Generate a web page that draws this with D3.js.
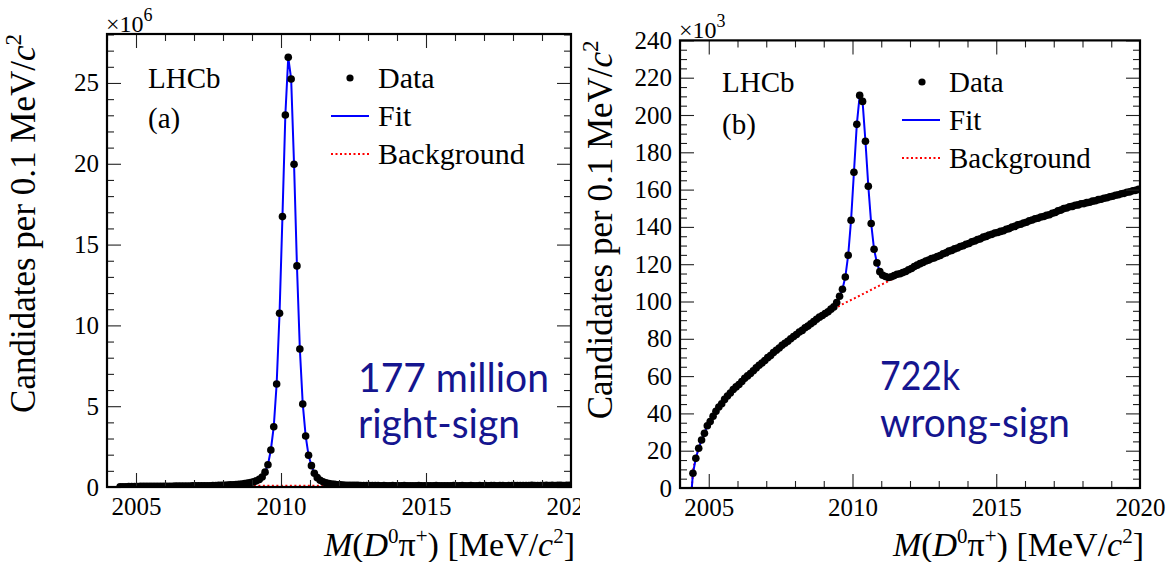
<!DOCTYPE html>
<html>
<head>
<meta charset="utf-8">
<script src="https://cdn.jsdelivr.net/npm/d3@7"></script>
<style>
  html, body { margin: 0; padding: 0; background: #fff; }
  svg { display: block; }
</style>
</head>
<body>
<svg id="chart" width="1167" height="562"></svg>
<script>
// ---- Binning: 0.1 MeV/c^2 bins, first bin centred at 2004.45 ----
const binStart = 2004.45;
const binStep = 0.1;
const massRange = [2004, 2020];
const threshold = 2004.41;           // D0 pi+ kinematic threshold

// Right-sign candidates per bin (units of 10^6)
const rightSign = [
  0.01, 0.02, 0.02, 0.03, 0.03, 0.03,
  0.03, 0.04, 0.04, 0.04, 0.04, 0.04, 0.05, 0.05, 0.05, 0.05,
  0.05, 0.05, 0.05, 0.06, 0.06, 0.06, 0.06, 0.06, 0.06, 0.07,
  0.07, 0.07, 0.07, 0.08, 0.08, 0.08, 0.09, 0.09, 0.10, 0.10,
  0.11, 0.12, 0.13, 0.14, 0.15, 0.17, 0.19, 0.21, 0.24, 0.28,
  0.32, 0.38, 0.47, 0.62, 0.92, 1.38, 2.29, 3.73, 6.37, 10.75,
  16.73, 23.02, 26.59, 25.25, 19.97, 13.68, 8.54, 5.14, 3.16, 1.96,
  1.32, 0.85, 0.58, 0.42, 0.32, 0.26, 0.21, 0.18, 0.16, 0.14,
  0.13, 0.12, 0.11, 0.11, 0.10, 0.10, 0.10, 0.09, 0.09, 0.09,
  0.09, 0.09, 0.09, 0.09, 0.08, 0.09, 0.08, 0.08, 0.09, 0.08,
  0.08, 0.08, 0.09, 0.08, 0.08, 0.08, 0.08, 0.09, 0.08, 0.08,
  0.08, 0.08, 0.08, 0.09, 0.08, 0.08, 0.08, 0.08, 0.08, 0.09,
  0.08, 0.08, 0.09, 0.08, 0.08, 0.09, 0.08, 0.08, 0.09, 0.08,
  0.09, 0.08, 0.09, 0.09, 0.08, 0.09, 0.09, 0.08, 0.09, 0.09,
  0.09, 0.09, 0.09, 0.09, 0.09, 0.09, 0.10, 0.09, 0.09, 0.09,
  0.09, 0.10, 0.09, 0.10, 0.09, 0.10, 0.10, 0.09, 0.10, 0.10
];

// Wrong-sign candidates per bin (units of 10^3)
const wrongSign = [
  7.9, 15.9, 21.3, 25.7, 29.3, 33.4,
  35.6, 38.5, 41.1, 43.4, 45.2, 47.5, 49.3, 50.9, 52.8, 54.2,
  55.5, 57.1, 58.8, 60.1, 61.4, 62.9, 64.4, 65.8, 67.0, 68.4,
  69.9, 71.0, 72.6, 73.9, 75.1, 76.5, 77.6, 78.7, 80.0, 81.2,
  82.3, 83.6, 84.5, 85.9, 86.8, 88.1, 89.2, 90.5, 91.6, 92.5,
  93.6, 94.5, 95.9, 97.1, 99.4, 102.8, 106.6, 113.1, 124.8, 143.6,
  169.3, 195.0, 210.5, 207.3, 185.9, 161.8, 141.8, 128.0, 120.7, 116.0,
  114.1, 113.4, 112.9, 113.3, 113.9, 114.6, 114.9, 115.5, 116.1, 117.0,
  117.7, 118.7, 119.5, 120.3, 120.9, 121.7, 122.2, 123.0, 123.4, 124.1,
  124.7, 125.6, 126.1, 127.0, 127.4, 128.2, 128.7, 129.5, 129.9, 130.7,
  131.1, 132.0, 132.4, 133.2, 133.6, 134.5, 134.9, 135.6, 136.0, 136.7,
  137.0, 137.6, 137.9, 138.7, 139.1, 139.9, 140.3, 141.1, 141.4, 142.1,
  142.5, 143.3, 143.7, 144.4, 144.6, 145.3, 145.6, 146.2, 146.5, 147.3,
  147.7, 148.6, 149.0, 149.8, 150.1, 150.8, 151.0, 151.6, 151.8, 152.4,
  152.5, 153.0, 153.2, 153.8, 154.0, 154.6, 154.8, 155.4, 155.6, 156.2,
  156.4, 157.0, 157.2, 157.8, 158.0, 158.6, 158.8, 159.4, 159.6, 160.1
];

// Background components of the fits
const bkgRightSignMass = [2004.41, 2004.6, 2005, 2006, 2007, 2008, 2009, 2010, 2011, 2012, 2013, 2014, 2016, 2018, 2020];
const bkgRightSign     = [0, 0.02, 0.03, 0.05, 0.06, 0.07, 0.07, 0.08, 0.08, 0.08, 0.08, 0.08, 0.08, 0.09, 0.10];

const bkgWrongSignMass = [2004.41, 2004.45, 2004.55, 2004.65, 2004.75, 2004.85, 2004.95, 2005.1, 2005.3, 2005.5,
                          2005.75, 2006, 2006.5, 2007, 2007.5, 2008, 2008.5, 2009, 2009.5, 2010, 2010.5, 2011,
                          2011.5, 2012, 2013, 2014, 2015, 2016, 2017, 2018, 2019, 2020];
const bkgWrongSign     = [0, 7.9, 15.9, 21.3, 25.7, 29.3, 33.3, 37.0, 41.6, 46.2,
                          50.9, 55.0, 62.3, 69.3, 75.8, 81.6, 87.0, 92.1, 97.3, 101.2, 105.1, 109.0,
                          112.9, 116.6, 124.0, 130.8, 136.8, 142.2, 147.4, 152.2, 156.2, 160.2];

// Axis ticks
const xMajorTicks = [2005, 2010, 2015, 2020];
const xMinorTicks = [2004, 2006, 2007, 2008, 2009, 2011, 2012, 2013, 2014, 2016, 2017, 2018, 2019];
const yMajorTicksA = [0, 5, 10, 15, 20, 25];
const yMajorTicksB = [0, 20, 40, 60, 80, 100, 120, 140, 160, 180, 200, 220, 240];

// Text
const legendLabels = ["Data", "Fit", "Background"];
const yieldRightSign = ["177 million", "right-sign"];
const yieldWrongSign = ["722k", "wrong-sign"];

// ---- Drawing ----
const svg = d3.select("#chart");
const serif = "'Liberation Serif', 'Times New Roman', Times, serif";
const sans = "Lato, 'Open Sans', 'Noto Sans', sans-serif";
const annotColor = "#15158f";

const panels = [
  {
    key: "a", left: 107, right: 571, top: 34, bottom: 487,
    yMax: 28.03, yMajor: yMajorTicksA, yMinorStep: 1, exponent: "6",
    values: rightSign, bkgMass: bkgRightSignMass, bkg: bkgRightSign,
    tag: "(a)", yieldLines: yieldRightSign,
    lhcb: [148, 88], tagPos: [148, 128],
    legend: { dotX: 350, lineX0: 331, lineX1: 369, textX: 378, y0: 78, gap: 38, font: 30 },
    yieldX: 358, yieldY: [392, 438], yieldWidth: [191, 162],
    clipX0: 0, clipX1: 580, yTitleX: 35
  },
  {
    key: "b", left: 680, right: 1140, top: 40.4, bottom: 488,
    yMax: 240, yMajor: yMajorTicksB, yMinorStep: 5, exponent: "3",
    values: wrongSign, bkgMass: bkgWrongSignMass, bkg: bkgWrongSign,
    tag: "(b)", yieldLines: yieldWrongSign,
    lhcb: [722, 92], tagPos: [722, 134],
    legend: { dotX: 922, lineX0: 902, lineX1: 940, textX: 949, y0: 82, gap: 38, font: 29 },
    yieldX: 880, yieldY: [390, 437], yieldWidth: [80, 190],
    clipX0: 578, clipX1: 1167, yTitleX: 612
  }
];

const defs = svg.append("defs");

panels.forEach(p => {
  const x = d3.scaleLinear().domain(massRange).range([p.left, p.right]);
  const y = d3.scaleLinear().domain([0, p.yMax]).range([p.bottom, p.top]);

  // whole-panel clip (the left panel is cut at its right side)
  defs.append("clipPath").attr("id", "panel-" + p.key)
    .append("rect").attr("x", p.clipX0).attr("y", 0)
    .attr("width", p.clipX1 - p.clipX0).attr("height", 562);
  // plot-area clip
  defs.append("clipPath").attr("id", "frame-" + p.key)
    .append("rect").attr("x", p.left).attr("y", p.top)
    .attr("width", p.right - p.left).attr("height", p.bottom - p.top);

  const g = svg.append("g").attr("clip-path", `url(#panel-${p.key})`);
  const plot = g.append("g").attr("clip-path", `url(#frame-${p.key})`);

  const bins = p.values.map((v, i) => ({ m: binStart + i * binStep, v }));

  // background (red dotted)
  const bkgPts = p.bkgMass.map((m, i) => [m, p.bkg[i]]);
  plot.append("path")
    .datum(bkgPts)
    .attr("fill", "none")
    .attr("stroke", "#ff0000")
    .attr("stroke-width", 2)
    .attr("stroke-dasharray", "2,2.5")
    .attr("d", d3.line().x(d => x(d[0])).y(d => y(d[1])).curve(d3.curveMonotoneX));

  // total fit (blue), zero below threshold then following the bins
  const fitPts = [[massRange[0], 0], [threshold, 0]].concat(bins.map(b => [b.m, b.v]));
  plot.append("path")
    .datum(fitPts)
    .attr("fill", "none")
    .attr("stroke", "#0000ff")
    .attr("stroke-width", 2)
    .attr("d", d3.line().x(d => x(d[0])).y(d => y(d[1])));

  // data points
  plot.append("g").selectAll("circle")
    .data(bins)
    .join("circle")
    .attr("cx", d => x(d.m))
    .attr("cy", d => y(d.v))
    .attr("r", 3.8)
    .attr("fill", "#000");

  // ---- axes: ticks point inwards on all four sides ----
  const yMinor = d3.range(0, p.yMax, p.yMinorStep).filter(v => !p.yMajor.includes(v));
  const styleAxis = sel => {
    sel.select(".domain").remove();
    sel.selectAll(".tick line").attr("stroke", "#222").attr("stroke-width", 1.1);
    sel.selectAll("text").attr("font-family", serif).attr("font-size", 25).attr("fill", "#000");
  };

  g.append("g").attr("transform", `translate(0,${p.bottom})`)
    .call(d3.axisBottom(x).tickValues(xMajorTicks.filter(t => t < massRange[1])).tickSize(-14).tickPadding(10).tickFormat(d3.format("d")))
    .call(styleAxis);
  g.append("g").attr("transform", `translate(0,${p.bottom})`)
    .call(d3.axisBottom(x).tickValues([massRange[1]]).tickSize(0).tickPadding(10).tickFormat(d3.format("d")))
    .call(styleAxis);
  g.append("g").attr("transform", `translate(0,${p.bottom})`)
    .call(d3.axisBottom(x).tickValues(xMinorTicks).tickSize(-7).tickFormat(""))
    .call(styleAxis);
  g.append("g").attr("transform", `translate(0,${p.top})`)
    .call(d3.axisTop(x).tickValues(xMajorTicks.filter(t => t < massRange[1])).tickSize(-14).tickFormat(""))
    .call(styleAxis);
  g.append("g").attr("transform", `translate(0,${p.top})`)
    .call(d3.axisTop(x).tickValues(xMinorTicks).tickSize(-7).tickFormat(""))
    .call(styleAxis);

  g.append("g").attr("transform", `translate(${p.left},0)`)
    .call(d3.axisLeft(y).tickValues(p.yMajor).tickSize(-14).tickPadding(8).tickFormat(d3.format("d")))
    .call(styleAxis);
  g.append("g").attr("transform", `translate(${p.left},0)`)
    .call(d3.axisLeft(y).tickValues(yMinor).tickSize(-7).tickFormat(""))
    .call(styleAxis);
  g.append("g").attr("transform", `translate(${p.right},0)`)
    .call(d3.axisRight(y).tickValues(p.yMajor).tickSize(-14).tickFormat(""))
    .call(styleAxis);
  g.append("g").attr("transform", `translate(${p.right},0)`)
    .call(d3.axisRight(y).tickValues(yMinor).tickSize(-7).tickFormat(""))
    .call(styleAxis);

  // frame
  g.append("rect")
    .attr("x", p.left).attr("y", p.top)
    .attr("width", p.right - p.left).attr("height", p.bottom - p.top)
    .attr("fill", "none").attr("stroke", "#000").attr("stroke-width", 2.2);

  // exponent multiplier
  const ex = g.append("text")
    .attr("x", p.left - 1).attr("y", p.top - 2)
    .attr("font-family", serif).attr("font-size", 24).attr("fill", "#000");
  ex.append("tspan").text("\u00d710");
  ex.append("tspan").attr("dy", -11).attr("font-size", 18).text(p.exponent);

  // y-axis title, aligned to the top of the frame
  const yt = g.append("text")
    .attr("transform", `translate(${p.yTitleX},${p.top}) rotate(-90)`)
    .attr("text-anchor", "end")
    .attr("font-family", serif).attr("font-size", 35).attr("fill", "#000");
  yt.append("tspan").text("Candidates per 0.1 MeV/");
  yt.append("tspan").attr("font-style", "italic").text("c");
  yt.append("tspan").attr("dy", -14).attr("font-size", 23).text("2");

  // x-axis title, aligned to the right end of the frame
  const xt = g.append("text")
    .attr("x", p.right + 4).attr("y", 556)
    .attr("text-anchor", "end")
    .attr("font-family", serif).attr("font-size", 34).attr("fill", "#000");
  xt.append("tspan").attr("font-style", "italic").text("M");
  xt.append("tspan").text("(");
  xt.append("tspan").attr("font-style", "italic").text("D");
  xt.append("tspan").attr("dy", -13).attr("font-size", 21).text("0");
  xt.append("tspan").attr("dy", 13).text("\u03c0");
  xt.append("tspan").attr("dy", -13).attr("font-size", 21).text("+");
  xt.append("tspan").attr("dy", 13).text(") [MeV/");
  xt.append("tspan").attr("font-style", "italic").text("c");
  xt.append("tspan").attr("dy", -13).attr("font-size", 21).text("2");
  xt.append("tspan").attr("dy", 13).text("]");

  // LHCb label and panel tag
  g.append("text").attr("x", p.lhcb[0]).attr("y", p.lhcb[1])
    .attr("font-family", serif).attr("font-size", 29).attr("fill", "#000").text("LHCb");
  g.append("text").attr("x", p.tagPos[0]).attr("y", p.tagPos[1])
    .attr("font-family", serif).attr("font-size", 29).attr("fill", "#000").text(p.tag);

  // legend
  const L = p.legend;
  g.append("circle").attr("cx", L.dotX).attr("cy", L.y0).attr("r", 3.6).attr("fill", "#000");
  g.append("line").attr("x1", L.lineX0).attr("x2", L.lineX1)
    .attr("y1", L.y0 + L.gap).attr("y2", L.y0 + L.gap)
    .attr("stroke", "#0000ff").attr("stroke-width", 2);
  g.append("line").attr("x1", L.lineX0).attr("x2", L.lineX1)
    .attr("y1", L.y0 + 2 * L.gap).attr("y2", L.y0 + 2 * L.gap)
    .attr("stroke", "#ff0000").attr("stroke-width", 2).attr("stroke-dasharray", "2,2.5");
  legendLabels.forEach((lab, i) => {
    g.append("text").attr("x", L.textX).attr("y", L.y0 + i * L.gap + 9.5)
      .attr("font-family", serif).attr("font-size", L.font).attr("fill", "#000").text(lab);
  });

  // yield annotation
  p.yieldLines.forEach((line, i) => {
    g.append("text").attr("x", p.yieldX).attr("y", p.yieldY[i])
      .attr("font-family", sans).attr("font-size", 41).attr("fill", annotColor)
      .attr("textLength", p.yieldWidth[i]).attr("lengthAdjust", "spacingAndGlyphs")
      .text(line);
  });
});
</script>
</body>
</html>
